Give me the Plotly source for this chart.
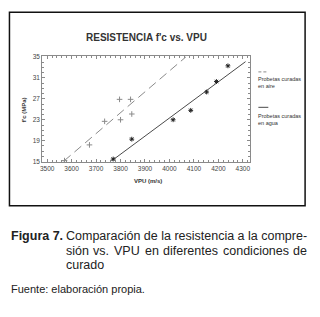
import plotly.graph_objects as go

W, H = 320, 317

# Data
air_vpu = [3571, 3673, 3735, 3796, 3800, 3841, 3846]
air_fc = [15.2, 18.2, 22.7, 26.9, 23.0, 26.9, 24.1]
water_vpu = [3770, 3846, 4015, 4087, 4152, 4192, 4239]
water_fc = [15.5, 19.3, 23.0, 24.8, 28.3, 30.3, 33.3]
air_fit_vpu = [3568, 4067]
air_fit_fc = [15.1, 35.0]
water_fit_vpu = [3765, 4311]
water_fit_fc = [15.2, 34.1]
x_ticks = [3500, 3600, 3700, 3800, 3900, 4000, 4100, 4200, 4300]
y_ticks = [15, 19, 23, 27, 31, 35]

SANS = "Liberation Sans, Arial, sans-serif"

def px(x):
    return x / W

def py(y):
    return 1 - y / H

fig = go.Figure()
fig.add_trace(go.Scatter(x=air_fit_vpu, y=air_fit_fc, mode="lines",
                         line=dict(color="#8a8a8a", width=1, dash="9px,5px"),
                         showlegend=False, hoverinfo="skip"))
fig.add_trace(go.Scatter(x=water_fit_vpu, y=water_fit_fc, mode="lines",
                         line=dict(color="#4a4a4a", width=1),
                         showlegend=False, hoverinfo="skip"))
fig.add_trace(go.Scatter(x=air_vpu, y=air_fc, mode="markers",
                         marker=dict(symbol="cross-thin-open", size=4, color="#8a8a8a",
                                     line=dict(color="#8a8a8a", width=1)),
                         showlegend=False))
fig.add_trace(go.Scatter(x=water_vpu, y=water_fc, mode="markers",
                         marker=dict(symbol="asterisk-open", size=4, color="#222222",
                                     line=dict(color="#222222", width=1)),
                         showlegend=False))

axis_common = dict(showline=True, linecolor="#8a8a8a", linewidth=1, mirror="ticks",
                   ticks="inside", ticklen=3, tickcolor="#8a8a8a", showgrid=False,
                   zeroline=False, tickfont=dict(family=SANS, size=6.5, color="#444444"))

fig.update_xaxes(range=[3480, 4331], tickvals=x_ticks, domain=[px(40.5), px(250)],
                 minor=dict(dtick=20, ticks="inside", ticklen=2, tickcolor="#8a8a8a"),
                 **axis_common)
fig.update_yaxes(range=[14.85, 35.15], tickvals=y_ticks, domain=[py(162), py(54)],
                 minor=dict(dtick=1, ticks="inside", ticklen=2, tickcolor="#8a8a8a"),
                 **axis_common)

ann = []
ann.append(dict(text="<b>RESISTENCIA f'c vs. VPU</b>", x=px(145), y=py(35),
                font=dict(family=SANS, size=10, color="#333333")))
ann.append(dict(text="<b>VPU (m/s)</b>", x=px(147), y=py(181),
                font=dict(family=SANS, size=6, color="#333333")))
ann.append(dict(text="<b>f'c (MPa)</b>", x=px(22), y=py(108), textangle=-90,
                font=dict(family=SANS, size=6, color="#333333")))
# legend texts
ann.append(dict(text="Probetas curadas<br>en aire", x=px(257), y=py(81), xanchor="left",
                align="left", font=dict(family=SANS, size=5.5, color="#333333")))
ann.append(dict(text="Probetas curadas<br>en agua", x=px(257), y=py(118), xanchor="left",
                align="left", font=dict(family=SANS, size=5.5, color="#333333")))
# caption
CAP = 12.5
ann.append(dict(text="<b>Figura 7.</b>", x=px(8), y=py(237), xanchor="left",
                font=dict(family=SANS, size=CAP, color="#222222")))
ann.append(dict(text="Comparación de la resistencia a la compre-", x=px(63), y=py(237),
                xanchor="left", font=dict(family=SANS, size=CAP, color="#222222")))
line2_words = ["sión", "vs.", "VPU", "en", "diferentes", "condiciones", "de"]
line2_x = [63, 90.8, 111.8, 142.4, 161.3, 221.1, 292.1]
for wd, xx in zip(line2_words, line2_x):
    ann.append(dict(text=wd, x=px(xx), y=py(252), xanchor="left",
                    font=dict(family=SANS, size=CAP, color="#222222")))
ann.append(dict(text="curado", x=px(63), y=py(266), xanchor="left",
                font=dict(family=SANS, size=CAP, color="#222222")))
ann.append(dict(text="Fuente: elaboración propia.", x=px(8), y=py(291), xanchor="left",
                font=dict(family=SANS, size=11, color="#222222")))
for a in ann:
    a.update(xref="paper", yref="paper", showarrow=False, borderpad=0)
    a.setdefault("xanchor", "center")
    a.setdefault("yanchor", "middle")

shapes = [
    dict(type="rect", xref="paper", yref="paper", x0=px(7.5), x1=px(305), y0=py(206), y1=py(9.5),
         line=dict(color="#111111", width=1.5)),
    dict(type="line", xref="paper", yref="paper", x0=px(258), x1=px(268), y0=py(70), y1=py(70),
         line=dict(color="#8a8a8a", width=1, dash="3px,2px")),
    dict(type="line", xref="paper", yref="paper", x0=px(258), x1=px(268), y0=py(106), y1=py(106),
         line=dict(color="#4a4a4a", width=1)),
]

fig.update_layout(width=W, height=H, margin=dict(l=0, r=0, t=0, b=0),
                  paper_bgcolor="white", plot_bgcolor="white",
                  annotations=ann, shapes=shapes, showlegend=False)
fig.write_html("out.html", config={"displayModeBar": False},
               post_script="document.body.style.margin='0';document.body.style.padding='0';")
